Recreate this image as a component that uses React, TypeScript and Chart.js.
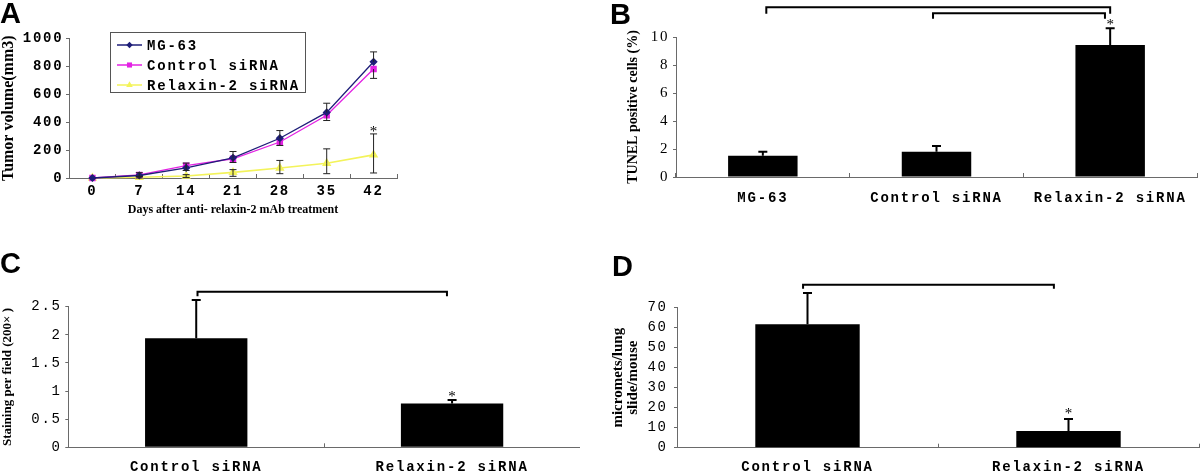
import React, { useEffect, useRef } from 'react';
import { Chart, registerables } from 'chart.js';

Chart.register(...registerables);

// ---------------- data ----------------
// Panel A
const daysLabels = ['0', '7', '14', '21', '28', '35', '42'];
const mg63Volume = [0, 18, 72, 145, 285, 470, 833];
const controlVolume = [0, 22, 88, 138, 258, 450, 781];
const relaxinVolume = [0, 5, 14, 40, 72, 106, 166];
const mg63ErrUp = [0, 20, 35, 45, 55, 66, 71];
const controlErrDown = [0, 10, 34, 27, 25, 38, 67];
const relaxinErrUp = [0, 5, 10, 20, 54, 103, 150];
const relaxinErrDown = [0, 5, 10, 28, 41, 75, 130];
const volumeTicks = [0, 200, 400, 600, 800, 1000];

// Panel B
const groupsB = ['MG-63', 'Control siRNA', 'Relaxin-2 siRNA'];
const tunelValues = [1.52, 1.81, 9.43];
const tunelErr = [0.29, 0.4, 1.19];
const tunelTicks = [0, 2, 4, 6, 8, 10];

// Panels C and D
const groupsCD = ['Control siRNA', 'Relaxin-2 siRNA'];
const stainingValues = [1.94, 0.78];
const stainingErr = [0.68, 0.06];
const stainingTicks = [0, 0.5, 1, 1.5, 2, 2.5];
const micrometsValues = [61.7, 8.4];
const micrometsErr = [15.6, 5.9];
const micrometsTicks = [0, 10, 20, 30, 40, 50, 60, 70];

// ---------------- styles ----------------
const MONO = "'Liberation Mono', 'DejaVu Sans Mono', monospace";
const SERIF = "'Liberation Serif', 'DejaVu Serif', serif";
const SANS = "'Liberation Sans', Arial, sans-serif";
const AXIS = '#6a6a6a';
const NAVY = '#1e1e78';
const MAGENTA = '#e322e3';
const YELLOW = '#f3f35a';
const SPACING = 1.8;

function drawMarker(ctx: any, style: string, x: number, y: number, r: number, color: string) {
  ctx.save();
  ctx.fillStyle = color;
  ctx.beginPath();
  if (style === 'rectRot') {
    ctx.moveTo(x, y - r); ctx.lineTo(x + r, y); ctx.lineTo(x, y + r); ctx.lineTo(x - r, y);
  } else if (style === 'rect') {
    const s = r * Math.SQRT1_2;
    ctx.rect(x - s, y - s, 2 * s, 2 * s);
  } else {
    ctx.moveTo(x, y - r); ctx.lineTo(x + r * 0.866, y + r * 0.5); ctx.lineTo(x - r * 0.866, y + r * 0.5);
  }
  ctx.closePath();
  ctx.fill();
  ctx.restore();
}

function decorPlugin(cfg: any) {
  return {
    id: 'decor',
    beforeDraw(chart: any) {
      chart.ctx.letterSpacing = '0px';
    },
    afterDatasetsDraw(chart: any) {
      const ctx = chart.ctx;
      const ys = chart.scales.y;
      ctx.save();
      ctx.strokeStyle = cfg.errColor;
      ctx.lineWidth = cfg.errWidth;
      chart.data.datasets.forEach((ds: any, di: number) => {
        const meta = chart.getDatasetMeta(di);
        const ups = (cfg.errUp && cfg.errUp[di]) || [];
        const downs = (cfg.errDown && cfg.errDown[di]) || [];
        meta.data.forEach((el: any, i: number) => {
          const v = ds.data[i];
          const x = el.x;
          const y0 = ys.getPixelForValue(v);
          const seg = (e: number, sign: number) => {
            if (!e) return;
            const y1 = ys.getPixelForValue(v + sign * e);
            ctx.beginPath();
            ctx.moveTo(x, y0);
            ctx.lineTo(x, y1);
            ctx.moveTo(x - cfg.capHalf, y1);
            ctx.lineTo(x + cfg.capHalf, y1);
            ctx.stroke();
          };
          seg(ups[i], 1);
          seg(downs[i], -1);
        });
      });
      ctx.restore();
      ctx.letterSpacing = cfg.spacing + 'px';
    },
    afterDraw(chart: any) {
      const ctx = chart.ctx;
      const xs = chart.scales.x;
      const ys = chart.scales.y;
      ctx.save();
      ctx.letterSpacing = '0px';
      ctx.fillStyle = '#000';
      ctx.font = `bold 29px ${SANS}`;
      ctx.textAlign = 'left';
      ctx.textBaseline = 'alphabetic';
      ctx.fillText(cfg.letter, cfg.letterX, cfg.letterY);

      ctx.strokeStyle = '#000';
      ctx.lineWidth = 2;
      ctx.lineJoin = 'miter';
      for (const b of cfg.brackets || []) {
        const x1 = xs.getPixelForValue(b.from);
        const x2 = xs.getPixelForValue(b.to);
        const yb = ys.getPixelForValue(b.level);
        ctx.beginPath();
        ctx.moveTo(x1, yb + b.leg);
        ctx.lineTo(x1, yb);
        ctx.lineTo(x2, yb);
        ctx.lineTo(x2, yb + b.leg);
        ctx.stroke();
      }

      ctx.font = `15px ${SERIF}`;
      ctx.textAlign = 'center';
      for (const s of cfg.stars || []) {
        const el = chart.getDatasetMeta(s.datasetIndex).data[s.index];
        const up = (cfg.errUp && cfg.errUp[s.datasetIndex] && cfg.errUp[s.datasetIndex][s.index]) || 0;
        const v = chart.data.datasets[s.datasetIndex].data[s.index] + up;
        const yc = ys.getPixelForValue(v) - s.gap;
        ctx.fillText('*', el.x, yc + 6);
      }

      const L = cfg.legend;
      if (L) {
        ctx.strokeStyle = '#555';
        ctx.lineWidth = 1;
        ctx.strokeRect(L.x + 0.5, L.y + 0.5, L.w, L.h);
        ctx.font = `bold 14px ${MONO}`;
        ctx.letterSpacing = L.spacing + 'px';
        ctx.textAlign = 'left';
        ctx.textBaseline = 'middle';
        chart.data.datasets.forEach((ds: any, i: number) => {
          const y = L.rows[i];
          ctx.strokeStyle = ds.borderColor;
          ctx.lineWidth = 1.5;
          ctx.beginPath();
          ctx.moveTo(L.lineX1, y);
          ctx.lineTo(L.lineX2, y);
          ctx.stroke();
          drawMarker(ctx, ds.pointStyle, (L.lineX1 + L.lineX2) / 2, y, ds.pointRadius, ds.backgroundColor);
          ctx.fillStyle = '#000';
          ctx.fillText(ds.label, L.textX, y + 1);
        });
      }
      ctx.restore();
    },
  };
}

function ticksFrom(arr: number[]) {
  return (scale: any) => {
    scale.ticks = arr.map((value) => ({ value }));
  };
}

// ---------------- configs ----------------
function configA(): any {
  const W = 580, H = 237;
  const area = { left: 69, right: 397, top: 38.5, bottom: 178 };
  const xH = 49;
  return {
    type: 'line',
    data: {
      labels: daysLabels,
      datasets: [
        { label: 'MG-63', data: mg63Volume, borderColor: NAVY, backgroundColor: NAVY, pointStyle: 'rectRot', pointRadius: 3.2, borderWidth: 1.3, clip: false },
        { label: 'Control siRNA', data: controlVolume, borderColor: MAGENTA, backgroundColor: MAGENTA, pointStyle: 'rect', pointRadius: 3.6, borderWidth: 1.3, clip: false },
        { label: 'Relaxin-2 siRNA', data: relaxinVolume, borderColor: YELLOW, backgroundColor: YELLOW, pointStyle: 'triangle', pointRadius: 3.8, borderWidth: 1.6, clip: false },
      ],
    },
    options: {
      animation: false,
      responsive: false,
      layout: { padding: { left: 0, top: area.top, right: W - area.right, bottom: H - area.bottom - xH } },
      plugins: { legend: { display: false }, tooltip: { enabled: false } },
      scales: {
        x: {
          type: 'category',
          offset: true,
          grid: { display: true, offset: true, drawOnChartArea: false, drawTicks: true, tickLength: -4, color: AXIS },
          border: { display: true, color: AXIS, width: 1 },
          ticks: { z: 1, padding: 9.3, color: '#000', maxRotation: 0, minRotation: 0, autoSkip: false, font: { family: MONO, size: 14, weight: 'bold' } },
          title: { display: true, text: 'Days after anti- relaxin-2 mAb treatment', color: '#000', font: { family: SERIF, size: 12, weight: 'bold', lineHeight: 1.2 }, padding: { top: 0, bottom: 9.8 } },
          afterFit: (s: any) => { s.height = xH; },
        },
        y: {
          min: 0,
          max: 1000,
          afterBuildTicks: ticksFrom(volumeTicks),
          grid: { display: true, drawOnChartArea: false, drawTicks: true, tickLength: 3, color: AXIS },
          border: { display: true, color: AXIS, width: 1 },
          ticks: { z: 1, padding: 2.5, color: '#000', callback: (v: any) => String(v), font: { family: MONO, size: 14, weight: 'bold' } },
          title: { display: true, text: 'Tumor volume(mm3)', color: '#000', font: { family: SERIF, size: 16, weight: 'bold', lineHeight: 1.1 }, padding: { top: 0, bottom: 0 } },
          afterFit: (s: any) => { s.width = area.left; },
        },
      },
    },
    plugins: [
      decorPlugin({
        letter: 'A', letterX: 0, letterY: 23,
        spacing: SPACING,
        errColor: '#222', errWidth: 1, capHalf: 3.5,
        errUp: [mg63ErrUp, [], relaxinErrUp],
        errDown: [[], controlErrDown, relaxinErrDown],
        brackets: [],
        stars: [{ datasetIndex: 2, index: 6, gap: 4 }],
        legend: { x: 110, y: 32, w: 195, h: 60, rows: [45, 65, 85], lineX1: 117, lineX2: 142, textX: 147, spacing: SPACING },
      }),
    ],
  };
}

function barConfig(p: any): any {
  const { W, H, area } = p;
  const xH = H - area.bottom - p.bottomPad;
  return {
    type: 'bar',
    data: {
      labels: p.labels,
      datasets: [{ label: p.name, data: p.values, backgroundColor: '#000', borderWidth: 0, barPercentage: 0.4, categoryPercentage: 1 }],
    },
    options: {
      animation: false,
      responsive: false,
      layout: { padding: { left: 0, top: area.top, right: W - area.right, bottom: p.bottomPad } },
      plugins: { legend: { display: false }, tooltip: { enabled: false } },
      scales: {
        x: {
          grid: { display: true, offset: true, drawOnChartArea: false, drawTicks: true, tickLength: -4, color: AXIS },
          border: { display: true, color: AXIS, width: 1 },
          ticks: { z: 1, padding: p.xPad, color: '#000', maxRotation: 0, minRotation: 0, autoSkip: false, font: { family: MONO, size: 14, weight: 'bold' } },
          afterFit: (s: any) => { s.height = xH; },
        },
        y: {
          min: 0,
          max: p.ticks[p.ticks.length - 1],
          afterBuildTicks: ticksFrom(p.ticks),
          grid: { display: true, drawOnChartArea: false, drawTicks: true, tickLength: 3, color: AXIS },
          border: { display: true, color: AXIS, width: 1 },
          ticks: { z: 1, padding: p.yPad, color: '#000', callback: (v: any) => String(v), font: p.tickFont },
          title: { display: true, text: p.yTitle, color: '#000', font: p.titleFont, padding: { top: p.titlePad, bottom: 0 } },
          afterFit: (s: any) => { s.width = area.left; },
        },
      },
    },
    plugins: [
      decorPlugin({
        letter: p.letter, letterX: p.letterX, letterY: p.letterY,
        spacing: SPACING,
        errColor: '#000', errWidth: 2, capHalf: 4.5,
        errUp: [p.err],
        errDown: [[]],
        brackets: p.brackets,
        stars: p.stars,
      }),
    ],
  };
}

function configB(): any {
  return barConfig({
    W: 620, H: 237, area: { left: 96, right: 617, top: 37, bottom: 177 }, bottomPad: 20,
    labels: groupsB, values: tunelValues, err: tunelErr, ticks: tunelTicks, name: 'TUNEL',
    xPad: 16.6, yPad: 3.7,
    tickFont: { family: SERIF, size: 15 },
    yTitle: 'TUNEL positive cells (%)', titleFont: { family: SERIF, size: 14, weight: 'bold', lineHeight: 1.2 }, titlePad: 44.6,
    letter: 'B', letterX: 30, letterY: 24,
    brackets: [
      { from: 0.02, to: 2, level: 12.12, leg: 6.5 },
      { from: 0.98, to: 1.97, level: 11.69, leg: 5.5 },
    ],
    stars: [{ datasetIndex: 0, index: 2, gap: 5.6 }],
  });
}

function configC(): any {
  return barConfig({
    W: 580, H: 237, area: { left: 68.3, right: 580, top: 69.7, bottom: 210.3 }, bottomPad: 0,
    labels: groupsCD, values: stainingValues, err: stainingErr, ticks: stainingTicks, name: 'Staining',
    xPad: 16, yPad: 3.5,
    tickFont: { family: MONO, size: 14 },
    yTitle: 'Staining per field (200× )', titleFont: { family: SERIF, size: 13, weight: 'bold', lineHeight: 1.2 }, titlePad: 0.2,
    letter: 'C', letterX: 0, letterY: 36,
    brackets: [{ from: 0.005, to: 0.98, level: 2.767, leg: 4.5 }],
    stars: [{ datasetIndex: 0, index: 1, gap: 5.5 }],
  });
}

function configD(): any {
  return barConfig({
    W: 620, H: 237, area: { left: 97, right: 619, top: 70.7, bottom: 210.7 }, bottomPad: 0,
    labels: groupsCD, values: micrometsValues, err: micrometsErr, ticks: micrometsTicks, name: 'Micromets',
    xPad: 14.9, yPad: 6.2,
    tickFont: { family: MONO, size: 14 },
    yTitle: ['micromets/lung', 'slide/mouse'], titleFont: { family: SERIF, size: 15, weight: 'bold', lineHeight: 1 }, titlePad: 30.5,
    letter: 'D', letterX: 32, letterY: 39,
    brackets: [{ from: -0.017, to: 0.944, level: 81.5, leg: 4 }],
    stars: [{ datasetIndex: 0, index: 1, gap: 7 }],
  });
}

function Panel({ make, left, top, width, height }: any) {
  const ref = useRef<HTMLCanvasElement>(null);
  useEffect(() => {
    const chart = new Chart(ref.current as HTMLCanvasElement, make());
    return () => chart.destroy();
  }, [make]);
  return (
    <canvas
      ref={ref}
      width={width}
      height={height}
      style={{ position: 'absolute', left, top, width, height, display: 'block' }}
    />
  );
}

export default function App() {
  return (
    <div style={{ position: 'absolute', left: 0, top: 0, width: 1200, height: 474, background: '#fff', overflow: 'hidden' }}>
      <Panel make={configA} left={0} top={0} width={580} height={237} />
      <Panel make={configB} left={580} top={0} width={620} height={237} />
      <Panel make={configC} left={0} top={237} width={580} height={237} />
      <Panel make={configD} left={580} top={237} width={620} height={237} />
    </div>
  );
}
